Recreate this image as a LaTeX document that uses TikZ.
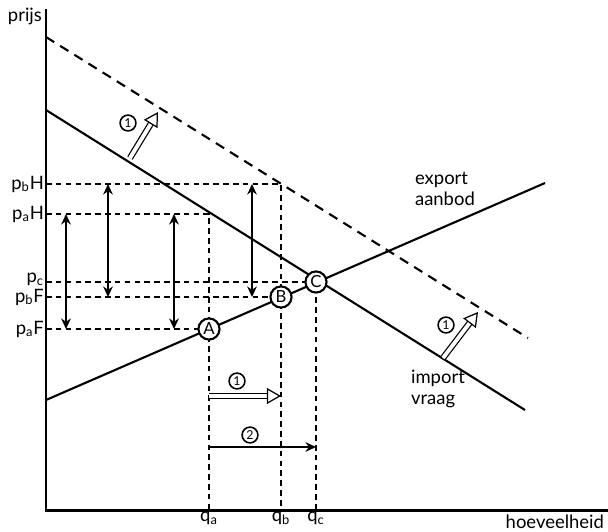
\documentclass[tikz,border=0pt]{standalone}
\usepackage{fontspec}
\setmainfont{Lato}
\usetikzlibrary{arrows.meta,calc}
\tikzset{
  axis/.style={line width=1.7pt},
  curve/.style={line width=1.2pt},
  shifted/.style={line width=1.2pt, dash pattern=on 5.5pt off 4pt},
  guide/.style={line width=1.1pt, dash pattern=on 3.2pt off 2.4pt},
  span/.style={{Stealth[length=6pt,width=5.5pt]}-{Stealth[length=6pt,width=5.5pt]}, line width=0.9pt},
  movearrow/.style={double, double distance=2.2pt, line width=0.7pt,
                -{Triangle[open,length=8pt,width=9pt]}},
  push/.style={-{Stealth[length=6pt,width=5.5pt]}, line width=0.8pt},
  eq/.style={circle, draw, line width=1.2pt, fill=white, inner sep=0pt,
             minimum size=12pt, font=\fontsize{9.5}{9.5}\selectfont},
  tag/.style={circle, draw, line width=0.9pt, fill=white, inner sep=0pt,
              minimum size=9pt, font=\fontsize{7}{7}\selectfont},
  lbl/.style={font=\fontsize{10.5}{12}\selectfont, inner sep=1pt},
}
\begin{document}
\begin{tikzpicture}[x=0.02cm, y=-0.02cm]
    \useasboundingbox (0,0) rectangle (608,531);
    % axes
    \coordinate (O) at (46,510);
    \coordinate (ytop) at (46,9);
    \coordinate (xend) at (608,510);
    \draw[axis] (ytop) -- (O) -- (xend);
    \node[lbl, anchor=east] (prijs) at (44,16) {prijs};
    \node[lbl, anchor=north east] (hoev) at (606,513) {hoeveelheid};
    % vraag, verschoven vraag, aanbod
    \coordinate (d1) at (46,110);  \coordinate (d2) at (525,410);
    \coordinate (s1) at (46,37);   \coordinate (s2) at (528,338);
    \coordinate (e1) at (46,400);  \coordinate (e2) at (545,183);
    \draw[shifted] (s1) -- (s2);
    \draw[curve] (d1) -- (d2);
    \draw[curve] (e1) -- (e2);
    \node[lbl, align=left, anchor=north west] (exp) at (413,170) {export\\aanbod};
    \node[lbl, align=left, anchor=north west] (imp) at (409,368) {import\\vraag};
    % evenwichten
    \coordinate (pA) at (209,329);
    \coordinate (pB) at (281,297);
    \coordinate (pC) at (316,282);
    \coordinate (aH) at (209,214);
    \coordinate (bH) at (281,184);
    \draw[guide] (O |- aH) -- (aH) -- (aH |- O);
    \draw[guide] (O |- bH) -- (bH) -- (bH |- O);
    \draw[guide] (O |- pC) -- (pC) -- (pC |- O);
    \draw[guide] (O |- pB) -- (pB);
    \draw[guide] (O |- pA) -- (pA);
    \node[eq] (A) at (pA) {A};
    \node[eq] (B) at (pB) {B};
    \node[eq] (C) at (pC) {C};
    % prijzen
    \node[lbl, anchor=east] (pbH) at (O |- bH) {p\textsubscript{b}H};
    \node[lbl, anchor=east] (paH) at (O |- aH) {p\textsubscript{a}H};
    \node[lbl, anchor=east] (pc)  at ($(O |- pC)+(0,-3)$) {p\textsubscript{c}};
    \node[lbl, anchor=east] (pbF) at (O |- pB) {p\textsubscript{b}F};
    \node[lbl, anchor=east] (paF) at (O |- pA) {p\textsubscript{a}F};
    \node[lbl, anchor=north] (qa) at (aH |- O) {q\textsubscript{a}};
    \node[lbl, anchor=north] (qb) at (bH |- O) {q\textsubscript{b}};
    \node[lbl, anchor=north] (qc) at (pC |- O) {q\textsubscript{c}};
    % prijsverschillen
    \foreach \x/\hi/\lo in {66/aH/pA, 108/bH/pB, 174/aH/pA, 252/bH/pB}
      \draw[span] (\x,0 |- \hi) -- (\x,0 |- \lo);
    % verschuivingen
    \coordinate (u1) at (130,158);  \coordinate (u2) at (158,112);
    \coordinate (w1) at (443,358);  \coordinate (w2) at (478,312);
    \coordinate (h1) at (209,396);  \coordinate (h2) at (281,396);
    \coordinate (k1) at (209,447);  \coordinate (k2) at (316,447);
    \draw[movearrow] (u1) -- (u2);
    \draw[movearrow] (w1) -- (w2);
    \draw[movearrow] (h1) -- (h2);
    \draw[push] (k1) -- (k2);
    \node[tag] (t1) at (128,123) {1};
    \node[tag] (t2) at (446,325) {1};
    \node[tag] (t3) at (237,381) {1};
    \node[tag] (t4) at (250,435) {2};
\end{tikzpicture}
\end{document}
